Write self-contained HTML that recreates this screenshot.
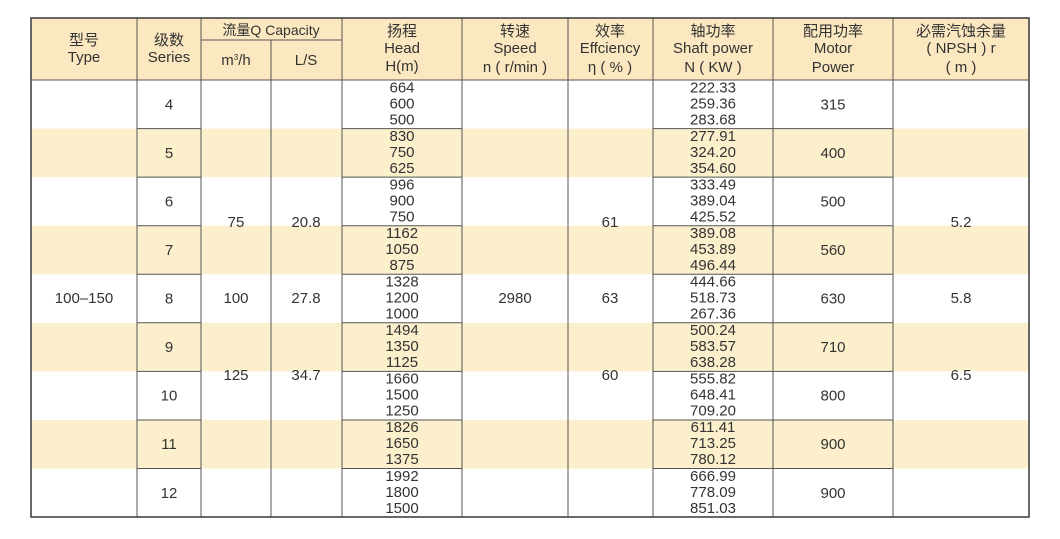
<!DOCTYPE html>
<html><head><meta charset="utf-8"><style>
html,body{margin:0;padding:0;background:#fff;width:1060px;height:539px;overflow:hidden}
svg{display:block}
text{font-family:"Liberation Sans","Noto Sans CJK SC",sans-serif;font-size:15px;fill:#333;text-anchor:middle}
</style></head><body>
<svg width="1060" height="539" viewBox="0 0 1060 539">
<rect x="31" y="18" width="998" height="62" fill="#fbe8c0"/>
<g fill="#fcefcc">
<rect x="31" y="128.6" width="998" height="48.6"/>
<rect x="31" y="225.7" width="998" height="48.6"/>
<rect x="31" y="322.8" width="998" height="48.6"/>
<rect x="31" y="420" width="998" height="48.6"/>
</g>
<g stroke="#555" stroke-width="1">
<line x1="137" y1="18" x2="137" y2="517"/><line x1="201" y1="18" x2="201" y2="517"/>
<line x1="271" y1="40" x2="271" y2="517"/><line x1="342" y1="18" x2="342" y2="517"/>
<line x1="462" y1="18" x2="462" y2="517"/><line x1="568" y1="18" x2="568" y2="517"/>
<line x1="653" y1="18" x2="653" y2="517"/><line x1="773" y1="18" x2="773" y2="517"/>
<line x1="893" y1="18" x2="893" y2="517"/>
<line x1="201" y1="40" x2="342" y2="40"/>
<line x1="31" y1="80" x2="1029" y2="80"/>
</g>
<g stroke="#555" stroke-width="1">
<path d="M137 128.6H201M342 128.6H462M653 128.6H893
M137 177.1H201M342 177.1H462M653 177.1H893
M137 225.7H201M342 225.7H462M653 225.7H893
M137 274.2H201M342 274.2H462M653 274.2H893
M137 322.8H201M342 322.8H462M653 322.8H893
M137 371.4H201M342 371.4H462M653 371.4H893
M137 420H201M342 420H462M653 420H893
M137 468.5H201M342 468.5H462M653 468.5H893"/>
</g>
<rect x="31" y="18" width="998" height="499" fill="none" stroke="#444" stroke-width="1.6"/>
<text x="84" y="45">型号</text><text x="84" y="62">Type</text>
<text x="169" y="45">级数</text><text x="169" y="62">Series</text>
<text x="271" y="35" style="font-size:14px">流量Q Capacity</text>
<text x="236" y="65">m<tspan dy="-5" style="font-size:8px">3</tspan><tspan dy="5">/h</tspan></text>
<text x="306" y="65">L/S</text>
<text x="402" y="36">扬程</text><text x="402" y="53">Head</text><text x="402" y="71">H(m)</text>
<text x="515" y="36">转速</text><text x="515" y="53">Speed</text><text x="515" y="72">n ( r/min )</text>
<text x="610" y="36">效率</text><text x="610" y="53">Effciency</text><text x="610" y="72">η ( % )</text>
<text x="713" y="36">轴功率</text><text x="713" y="53">Shaft power</text><text x="713" y="72">N ( KW )</text>
<text x="833" y="36">配用功率</text><text x="833" y="53">Motor</text><text x="833" y="72">Power</text>
<text x="961" y="36">必需汽蚀余量</text><text x="961" y="53">( NPSH ) r</text><text x="961" y="72">( m )</text>
<g>
<text x="169" y="109.3">4</text><text x="169" y="157.8">5</text><text x="169" y="206.4">6</text>
<text x="169" y="255">7</text><text x="169" y="303.5">8</text><text x="169" y="352.1">9</text>
<text x="169" y="400.7">10</text><text x="169" y="449.2">11</text><text x="169" y="497.8">12</text>
</g>
<g>
<text x="833" y="109.3">315</text><text x="833" y="157.8">400</text><text x="833" y="206.4">500</text>
<text x="833" y="255">560</text><text x="833" y="303.5">630</text><text x="833" y="352.1">710</text>
<text x="833" y="400.7">800</text><text x="833" y="449.2">900</text><text x="833" y="497.8">900</text>
</g>
<text x="84" y="303">100–150</text><text x="515" y="303">2980</text>
<text x="236" y="227">75</text><text x="306" y="227">20.8</text>
<text x="236" y="303">100</text><text x="306" y="303">27.8</text>
<text x="236" y="380">125</text><text x="306" y="380">34.7</text>
<text x="610" y="227">61</text><text x="610" y="303">63</text><text x="610" y="380">60</text>
<text x="961" y="227">5.2</text><text x="961" y="303">5.8</text><text x="961" y="380">6.5</text>
<g>
<text x="402" y="92.3">664</text><text x="402" y="108.3">600</text><text x="402" y="124.3">500</text>
<text x="402" y="140.8">830</text><text x="402" y="156.8">750</text><text x="402" y="172.8">625</text>
<text x="402" y="189.4">996</text><text x="402" y="205.4">900</text><text x="402" y="221.4">750</text>
<text x="402" y="238">1162</text><text x="402" y="254">1050</text><text x="402" y="270">875</text>
<text x="402" y="286.5">1328</text><text x="402" y="302.5">1200</text><text x="402" y="318.5">1000</text>
<text x="402" y="335.1">1494</text><text x="402" y="351.1">1350</text><text x="402" y="367.1">1125</text>
<text x="402" y="383.7">1660</text><text x="402" y="399.7">1500</text><text x="402" y="415.7">1250</text>
<text x="402" y="432.2">1826</text><text x="402" y="448.2">1650</text><text x="402" y="464.2">1375</text>
<text x="402" y="480.8">1992</text><text x="402" y="496.8">1800</text><text x="402" y="512.8">1500</text>
</g>
<g>
<text x="713" y="92.3">222.33</text><text x="713" y="108.3">259.36</text><text x="713" y="124.3">283.68</text>
<text x="713" y="140.8">277.91</text><text x="713" y="156.8">324.20</text><text x="713" y="172.8">354.60</text>
<text x="713" y="189.4">333.49</text><text x="713" y="205.4">389.04</text><text x="713" y="221.4">425.52</text>
<text x="713" y="238">389.08</text><text x="713" y="254">453.89</text><text x="713" y="270">496.44</text>
<text x="713" y="286.5">444.66</text><text x="713" y="302.5">518.73</text><text x="713" y="318.5">267.36</text>
<text x="713" y="335.1">500.24</text><text x="713" y="351.1">583.57</text><text x="713" y="367.1">638.28</text>
<text x="713" y="383.7">555.82</text><text x="713" y="399.7">648.41</text><text x="713" y="415.7">709.20</text>
<text x="713" y="432.2">611.41</text><text x="713" y="448.2">713.25</text><text x="713" y="464.2">780.12</text>
<text x="713" y="480.8">666.99</text><text x="713" y="496.8">778.09</text><text x="713" y="512.8">851.03</text>
</g>
</svg>
</body></html>
